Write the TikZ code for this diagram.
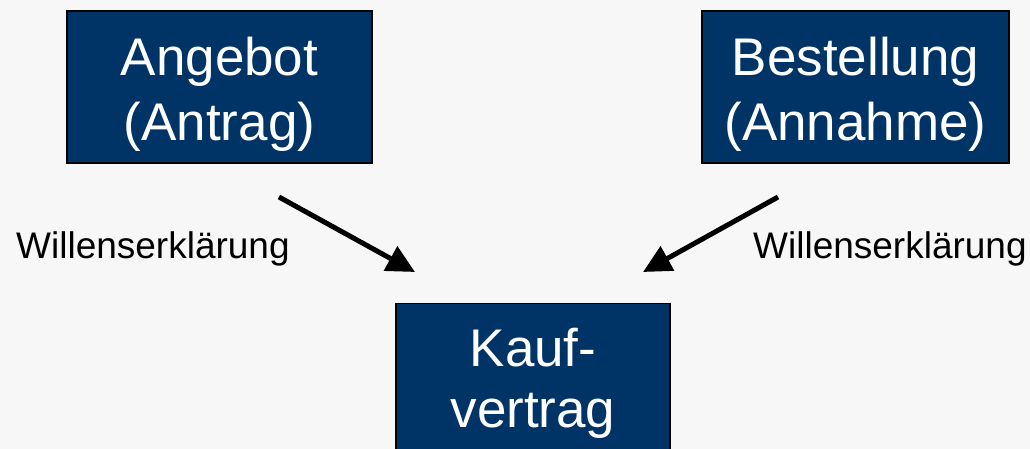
\documentclass[tikz,border=0pt]{standalone}
\usepackage{fontspec}
\setmainfont{Liberation Sans}
\usetikzlibrary{arrows.meta}
\definecolor{navy}{HTML}{003366}
\definecolor{bg}{HTML}{F7F7F7}
\begin{document}
\begin{tikzpicture}[x=1pt,y=-1pt,
  boxshape/.style={draw=black,line width=1.3pt,fill=navy,inner sep=0pt},
  boxtext/.style={text=white,align=center,inner sep=0pt,font=\fontsize{53}{65}\selectfont},
  lbl/.style={text=black,inner sep=0pt,font=\fontsize{37}{44}\selectfont},
  arr/.style={line width=5pt,-{Triangle[length=28pt,width=27pt]}}]
\fill[bg] (0,0) rectangle (1030,449);
\useasboundingbox (0,0) rectangle (1030,449);
\node[boxshape,minimum width=305pt,minimum height=152pt] (angebot) at (219.5,87) {};
\node[boxtext,yshift=-7pt] (angebottext) at (angebot.center) {Angebot\\(Antrag)};
\node[boxshape,minimum width=307pt,minimum height=152pt] (bestellung) at (855.5,87) {};
\node[boxtext,yshift=-7pt] (bestellungtext) at (bestellung.center) {Bestellung\\(Annahme)};
\node[boxshape,minimum width=274pt,minimum height=170pt,anchor=north] (kauf) at (533,303) {};
\node[boxtext,font=\fontsize{53}{61}\selectfont] (kauftext) at (533,383) {Kauf-\\vertrag};
\node[lbl,anchor=base west] (lblleft) at (16,258) {Willenserklärung};
\node[lbl,anchor=base west] (lblright) at (753,258) {Willenserklärung};
\coordinate (s1) at (279,197);
\coordinate (e1) at (415,272);
\coordinate (s2) at (778,197);
\coordinate (e2) at (643,272);
\draw[arr] (s1) -- (e1);
\draw[arr] (s2) -- (e2);
\end{tikzpicture}
\end{document}
